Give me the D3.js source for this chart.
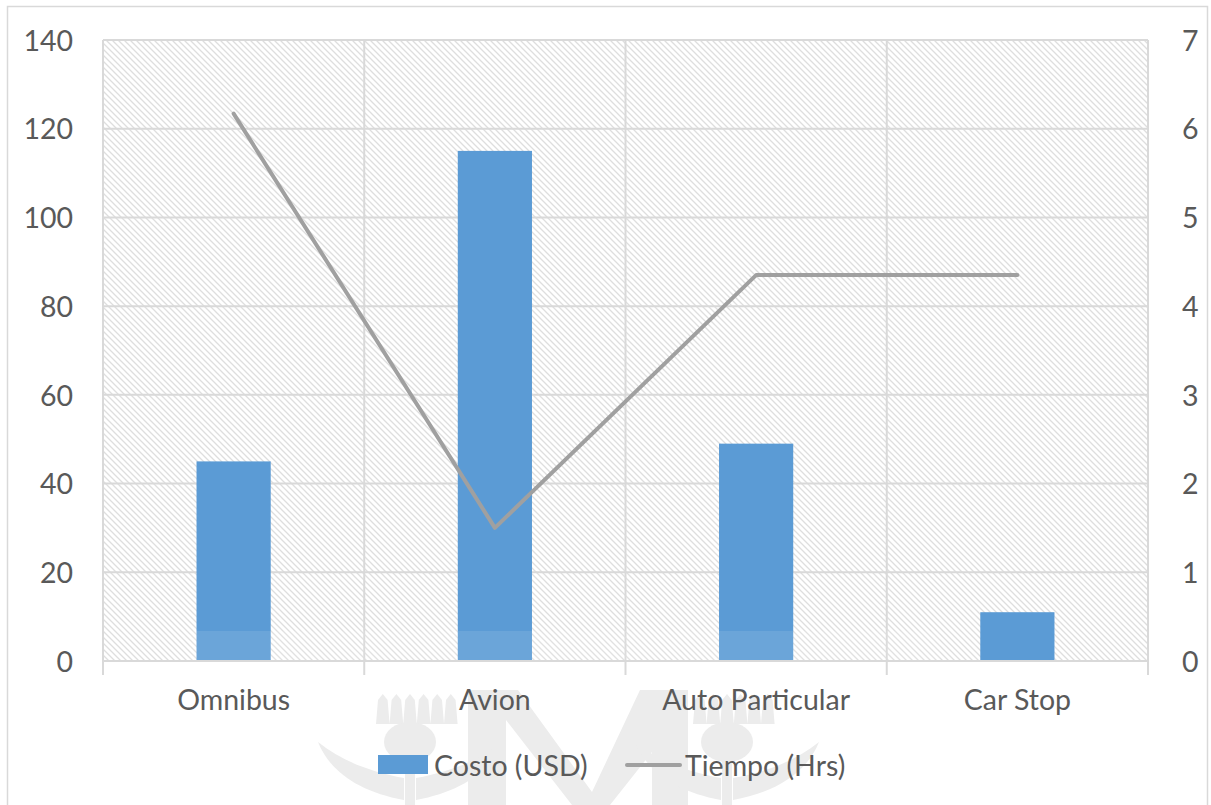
<!DOCTYPE html>
<html>
<head>
<meta charset="utf-8">
<script src="https://cdn.jsdelivr.net/npm/d3@7"></script>
<style>
  html, body { margin: 0; padding: 0; background: #fff; }
  svg { display: block; }
  text { font-family: Lato, "Open Sans", sans-serif; fill: #595959; }
</style>
</head>
<body>
<svg id="chart" width="1211" height="805"></svg>
<script>
// Transport modes and their values
const categories = ["Omnibus", "Avion", "Auto Particular", "Car Stop"];
const costoUSD = [45, 115, 49, 11];
const tiempoHrs = [6.17, 1.5, 4.35, 4.35];
const leftTicks = [0, 20, 40, 60, 80, 100, 120, 140];
const rightTicks = [0, 1, 2, 3, 4, 5, 6, 7];
const seriesNames = ["Costo (USD)", "Tiempo (Hrs)"];

const W = 1211, H = 805;
const plot = { left: 103, right: 1148, top: 40, bottom: 661 };
const gridColor = "#d9d9d9";
const barColor = "#5b9bd5";
const lineColor = "#a0a0a0";
const fontSize = 28.5;

const svg = d3.select("#chart");

// Outer chart frame
svg.append("rect")
  .attr("x", 7.5).attr("y", 6.5)
  .attr("width", 1200).attr("height", 820)
  .attr("fill", "#fff").attr("stroke", gridColor).attr("stroke-width", 1.5);

// Faint emblem behind the lower part of the chart
const mark = svg.append("g").attr("fill", "#ececec");
mark.append("path").attr("d",
  "M468,690 L518,690 L592,792 L640,690 L688,690 L688,805 L652,805 L652,752 L610,805 L572,805 L506,720 L506,805 L468,805 Z");
function thistle(cx) {
  const g = mark.append("g");
  // spiky crown
  let d = `M${cx - 34},724 `;
  for (let k = 0; k <= 5; k++) {
    const px = cx - 34 + k * 13.6;
    d += `L${px + 2},700 L${px + 6.8},694 L${px + 11.6},700 L${px + 13.6},724 `;
  }
  d += "Z";
  g.append("path").attr("d", d);
  g.append("ellipse").attr("cx", cx).attr("cy", 742).attr("rx", 26).attr("ry", 20);
  g.append("rect").attr("x", cx - 5).attr("y", 758).attr("width", 10).attr("height", 47);
  g.append("path").attr("d", `M${cx - 6},778 C${cx - 40},772 ${cx - 70},760 ${cx - 92},742 C${cx - 80},772 ${cx - 50},792 ${cx - 6},800 Z`);
  g.append("path").attr("d", `M${cx + 6},778 C${cx + 40},772 ${cx + 70},760 ${cx + 92},742 C${cx + 80},772 ${cx + 50},792 ${cx + 6},800 Z`);
}
thistle(410);
thistle(727);

// Diagonal hatch for the plot background
const defs = svg.append("defs");
const pat = defs.append("pattern")
  .attr("id", "hatch").attr("patternUnits", "userSpaceOnUse")
  .attr("width", 6).attr("height", 6);
pat.append("rect").attr("width", 6).attr("height", 6).attr("fill", "#fff");
pat.append("path")
  .attr("d", "M-1,-1 L7,7 M-7,-1 L1,7 M5,-1 L13,7")
  .attr("stroke", "#dedede").attr("stroke-width", 1.3);

const x = d3.scaleBand().domain(categories).range([plot.left, plot.right]).padding(0);
const yL = d3.scaleLinear().domain([0, 140]).range([plot.bottom, plot.top]);
const yR = d3.scaleLinear().domain([0, 7]).range([plot.bottom, plot.top]);

svg.append("rect")
  .attr("x", plot.left).attr("y", plot.top)
  .attr("width", plot.right - plot.left).attr("height", plot.bottom - plot.top)
  .attr("fill", "url(#hatch)");

// Horizontal gridlines
svg.append("g")
  .selectAll("line").data(leftTicks).join("line")
  .attr("x1", plot.left).attr("x2", plot.right)
  .attr("y1", d => yL(d)).attr("y2", d => yL(d))
  .attr("stroke", gridColor).attr("stroke-width", 2);

// Vertical category dividers, extending below the axis as tick marks
const bounds = categories.map(c => x(c)).concat([plot.right]);
svg.append("g")
  .selectAll("line").data(bounds).join("line")
  .attr("x1", d => d).attr("x2", d => d)
  .attr("y1", plot.top).attr("y2", plot.bottom + 14)
  .attr("stroke", gridColor).attr("stroke-width", 2);

// Bars
const barW = x.bandwidth() * 0.284;
svg.append("g")
  .selectAll("rect").data(categories).join("rect")
  .attr("x", (d) => x(d) + x.bandwidth() / 2 - barW / 2)
  .attr("y", (d, i) => yL(costoUSD[i]))
  .attr("width", barW)
  .attr("height", (d, i) => yL(0) - yL(costoUSD[i]))
  .attr("fill", barColor);

// Line series on the secondary axis
const line = d3.line()
  .x((d, i) => x(categories[i]) + x.bandwidth() / 2)
  .y(d => yR(d));
svg.append("path")
  .datum(tiempoHrs)
  .attr("d", line)
  .attr("fill", "none").attr("stroke", lineColor)
  .attr("stroke-width", 4).attr("stroke-linejoin", "round").attr("stroke-linecap", "round");

// Bottom axis line
svg.append("line")
  .attr("x1", plot.left).attr("x2", plot.right)
  .attr("y1", plot.bottom).attr("y2", plot.bottom)
  .attr("stroke", gridColor).attr("stroke-width", 2);

// Soft veil where the emblem reaches the plot
svg.append("rect")
  .attr("x", 190).attr("y", 631).attr("width", 750).attr("height", 29)
  .attr("fill", "#fff").attr("opacity", 0.1);

// Left axis labels
const axisL = d3.axisLeft(yL).tickValues(leftTicks).tickSize(0).tickPadding(0);
const gL = svg.append("g").attr("transform", "translate(73,0)").call(axisL);
gL.select(".domain").remove();
gL.selectAll("text").attr("font-size", fontSize).attr("font-family", "Lato, sans-serif").attr("fill", "#595959").attr("dy", "0.36em");

// Right axis labels
const axisR = d3.axisRight(yR).tickValues(rightTicks).tickFormat(d3.format("d")).tickSize(0).tickPadding(0);
const gR = svg.append("g").attr("transform", "translate(1182,0)").call(axisR);
gR.select(".domain").remove();
gR.selectAll("text").attr("font-size", fontSize).attr("font-family", "Lato, sans-serif").attr("fill", "#595959").attr("dy", "0.36em");

// Category labels
const axisB = d3.axisBottom(x).tickSize(0).tickPadding(0);
const gB = svg.append("g").attr("transform", `translate(0,${plot.bottom})`).call(axisB);
gB.select(".domain").remove();
gB.selectAll("text").attr("font-size", fontSize).attr("font-family", "Lato, sans-serif").attr("fill", "#595959").attr("dy", "1.72em");

// Legend
const lg = svg.append("g");
lg.append("rect").attr("x", 378).attr("y", 755).attr("width", 50).attr("height", 19).attr("fill", barColor);
lg.append("text").attr("x", 434).attr("y", 766).attr("dy", "0.36em").attr("font-size", fontSize).text(seriesNames[0]);
lg.append("line").attr("x1", 627).attr("x2", 680).attr("y1", 765).attr("y2", 765)
  .attr("stroke", lineColor).attr("stroke-width", 4).attr("stroke-linecap", "round");
lg.append("text").attr("x", 685).attr("y", 766).attr("dy", "0.36em").attr("font-size", fontSize).text(seriesNames[1]);
</script>
</body>
</html>
